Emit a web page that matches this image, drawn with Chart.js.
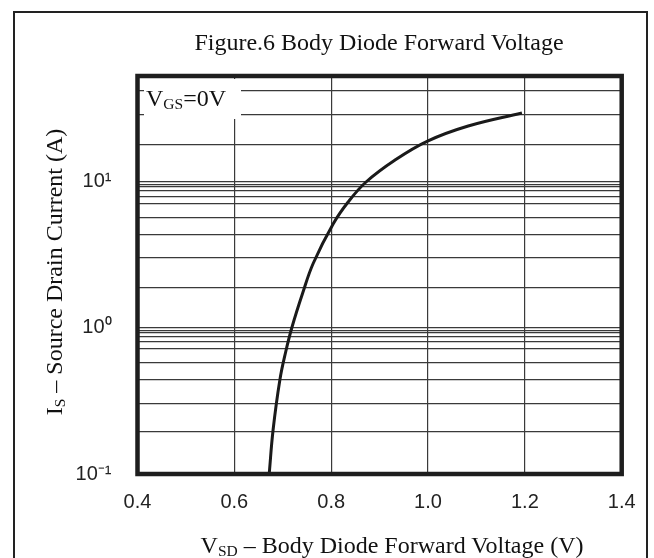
<!DOCTYPE html>
<html>
<head>
<meta charset="utf-8">
<script src="https://cdn.jsdelivr.net/npm/chart.js@4.4.1/dist/chart.umd.min.js"></script>
<style>
  body { margin: 0; background: #fff; }
  #wrap { position: relative; width: 654px; height: 558px; overflow: hidden; }
  #chart { position: absolute; left: 0; top: 0; }
  #frame { position: absolute; left: 13px; top: 11px; width: 635px; height: 600px; border: 2px solid #222; box-sizing: border-box; }
  .serif { position: absolute; font-family: "Liberation Serif", "Times New Roman", serif; font-size: 24px; line-height: 24px; color: #111; white-space: nowrap; }
  .sub { font-size: 15.5px; vertical-align: -3px; }
  #title { left: 379px; top: 30px; transform: translateX(-50%); }
  #xtitle { left: 392px; top: 533px; transform: translateX(-50%); }
  #ytitle { left: 57px; top: 272px; transform: translate(-50%, -50%) rotate(-90deg); }
  #vgsbox { position: absolute; left: 144px; top: 79px; width: 97px; height: 40px; background: #fff; }
  #vgs { left: 146px; top: 86px; }
</style>
</head>
<body>
<div id="wrap">
  <canvas id="chart" width="654" height="558"></canvas>
  <div id="frame"></div>
  <div class="serif" id="title">Figure.6 Body Diode Forward Voltage</div>
  <div class="serif" id="ytitle">I<span class="sub">S</span> – Source Drain Current (A)</div>
  <div class="serif" id="xtitle">V<span class="sub">SD</span> – Body Diode Forward Voltage (V)</div>
  <div id="vgsbox"></div>
  <div class="serif" id="vgs">V<span class="sub">GS</span>=0V</div>
</div>
<script>
// values
const vsd = [0.672, 0.680, 0.694, 0.706, 0.719, 0.741, 0.763, 0.804, 0.835, 0.872, 0.932, 0.999, 1.083, 1.194];
const isd = [0.1, 0.2, 0.44, 0.684, 1.01, 1.725, 2.77, 5.14, 7.27, 9.97, 14.1, 19.0, 24.1, 29.6];

const xTicks = [0.4, 0.6, 0.8, 1.0, 1.2, 1.4];
// horizontal grid lines as they sit in the picture
const yGrid = [0.1, 0.196, 0.305, 0.442, 0.581, 0.718, 0.81, 0.876, 0.924, 0.958, 1,
               1.88, 3.02, 4.36, 5.7, 7.04, 7.9, 8.68, 9.24, 9.6, 10, 18.1, 28.7, 42, 53];
const yLabels = { 0.1: '10⁻¹', 1: '10⁰', 10: '10¹' };

const gridColor = '#3a3a3a';
const tickFont = { family: '"Liberation Sans", Arial, sans-serif', size: 20 };

const plotFrame = {
    id: 'plotFrame',
    afterDraw(chart) {
        const { ctx, chartArea: a } = chart;
        ctx.save();
        ctx.strokeStyle = '#1e1e1e';
        ctx.lineWidth = 4.5;
        ctx.strokeRect(a.left, a.top, a.right - a.left, a.bottom - a.top);
        ctx.restore();
    }
};

new Chart(document.getElementById('chart'), {
    type: 'line',
    data: {
        datasets: [{
            data: vsd.map((x, i) => ({ x: x, y: isd[i] })),
            borderColor: '#1a1a1a',
            borderWidth: 3,
            pointRadius: 0,
            tension: 0.4
        }]
    },
    options: {
        responsive: false,
        animation: false,
        devicePixelRatio: 1,
        layout: { padding: { top: 76, right: 32.3, left: 0, bottom: 0 } },
        plugins: { legend: { display: false }, tooltip: { enabled: false } },
        scales: {
            x: {
                type: 'linear',
                min: 0.4,
                max: 1.4,
                afterBuildTicks: (s) => { s.ticks = xTicks.map(v => ({ value: v })); },
                afterFit: (s) => { s.height = 84; },
                ticks: {
                    autoSkip: false,
                    maxRotation: 0,
                    padding: 16,
                    color: '#222',
                    font: tickFont,
                    callback: (v) => Number(v).toFixed(1)
                },
                grid: { color: gridColor, lineWidth: 1.2, drawTicks: false },
                border: { display: false }
            },
            y: {
                type: 'logarithmic',
                min: 0.1,
                max: 53,
                afterBuildTicks: (s) => { s.ticks = yGrid.map(v => ({ value: v })); },
                afterFit: (s) => { s.width = 137.5; },
                ticks: {
                    autoSkip: false,
                    padding: 26,
                    color: '#222',
                    font: tickFont,
                    callback: (v) => yLabels[v] || ''
                },
                grid: { color: gridColor, lineWidth: 1.2, drawTicks: false },
                border: { display: false }
            }
        }
    },
    plugins: [plotFrame]
});
</script>
</body>
</html>
